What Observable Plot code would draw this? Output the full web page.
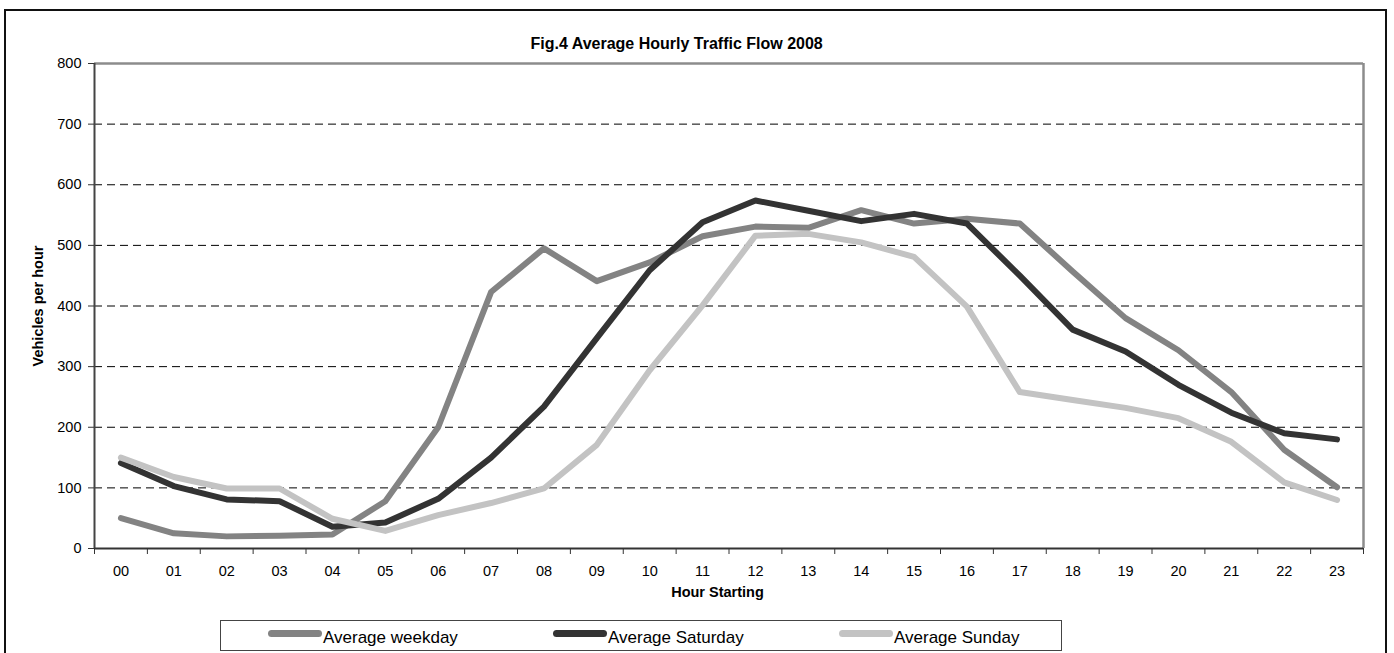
<!DOCTYPE html>
<html>
<head>
<meta charset="utf-8">
<script src="https://cdn.jsdelivr.net/npm/d3@7"></script>
<script src="https://cdn.jsdelivr.net/npm/@observablehq/plot@0.6"></script>
<style>
  html, body { margin: 0; padding: 0; background: #fff; }
  #wrap { position: relative; width: 1394px; height: 653px; overflow: hidden; font-family: "Liberation Sans", Arial, sans-serif; }
  #outer { position: absolute; left: 4px; top: 9px; width: 1383px; height: 700px; border: 2px solid #111; box-sizing: border-box; }
  #chart { position: absolute; left: 0; top: 0; }
  #legend { position: absolute; left: 220px; top: 620px; width: 842px; height: 31px; border: 1px solid #444; box-sizing: border-box; background: #fff; }
  .sw { position: absolute; height: 7px; width: 54px; border-radius: 3.5px; }
  .lt { position: absolute; font-size: 17px; line-height: 17px; color: #000; white-space: nowrap; }
</style>
</head>
<body>
<div id="wrap">
  <div id="outer"></div>
  <div id="chart"></div>
  <div id="legend"></div>
</div>
<script>
const titleText = "Fig.4 Average Hourly Traffic Flow 2008";
const yLabel = "Vehicles per hour";
const xLabel = "Hour Starting";
const hours = ["00","01","02","03","04","05","06","07","08","09","10","11","12","13","14","15","16","17","18","19","20","21","22","23"];
const weekday  = [50, 25, 20, 21, 23, 78, 200, 423, 495, 441, 472, 515, 531, 529, 558, 536, 544, 536, 457, 380, 327, 258, 163, 101];
const saturday = [141, 103, 81, 78, 36, 43, 82, 150, 234, 347, 459, 538, 574, 557, 540, 552, 536, 450, 361, 325, 270, 224, 190, 180];
const sunday   = [150, 118, 99, 99, 49, 29, 55, 75, 99, 171, 294, 401, 516, 519, 505, 481, 399, 258, 245, 232, 215, 176, 109, 80];
const seriesNames = ["Average weekday", "Average Saturday", "Average Sunday"];
const yTicks = [0, 100, 200, 300, 400, 500, 600, 700, 800];

const seriesColors = ["#838383", "#333333", "#c3c3c3"];
const seriesValues = [weekday, saturday, sunday];
const font = "'Liberation Sans', Arial, sans-serif";

const idx = hours.map((h, i) => i);
const boundaries = d3.range(hours.length + 1).map(i => i - 0.5);
const lineData = seriesValues.map((vals, s) => hours.map((h, i) => ({i, h, v: vals[i], s: seriesNames[s]})));

const chart = Plot.plot({
  width: 1394,
  height: 610,
  marginLeft: 94,
  marginRight: 31,
  marginTop: 63,
  marginBottom: 62,
  style: {fontFamily: font, fontSize: "14.5px", background: "transparent", color: "#000", overflow: "visible"},
  x: {type: "linear", domain: [-0.5, hours.length - 0.5]},
  y: {domain: [0, 800]},
  marks: [
    Plot.gridY(yTicks.filter(t => t > 0 && t < 800), {stroke: "#000", strokeOpacity: 1, strokeWidth: 1, strokeDasharray: "8,5"}),
    Plot.ruleY([800], {stroke: "#8c8c8c", strokeWidth: 2.5}),
    Plot.ruleX([hours.length - 0.5], {stroke: "#8c8c8c", strokeWidth: 2.5}),
    Plot.ruleX([-0.5], {stroke: "#444", strokeWidth: 2}),
    Plot.ruleY([0], {stroke: "#333", strokeWidth: 2}),
    Plot.axisY(yTicks, {tickSize: 6, tickPadding: 7, label: null, color: "#000", stroke: "#333", fontSize: 14.5}),
    Plot.axisX(boundaries, {tickSize: 6, tickFormat: () => "", label: null, stroke: "#333"}),
    Plot.axisX(idx, {tickSize: 0, tickPadding: 17, tickFormat: i => hours[i], label: null, color: "#000", fontSize: 14.5}),
    ...lineData.map((d, s) => Plot.line(d, {x: "i", y: "v", stroke: seriesColors[s], strokeWidth: 6, strokeLinejoin: "round", strokeLinecap: "round"})),
    Plot.text([yLabel], {frameAnchor: "left", dx: -56.5, rotate: -90, fontWeight: "bold", fontSize: 14.5, textAnchor: "middle", fill: "#000"}),
    Plot.text([xLabel], {frameAnchor: "bottom", dx: -11.5, dy: 48, fontWeight: "bold", fontSize: 14.5, textAnchor: "middle", fill: "#000"}),
    Plot.text([titleText], {frameAnchor: "top-left", dx: 436, dy: -26, fontWeight: "bold", fontSize: 16, textAnchor: "start", fill: "#000"})
  ]
});
document.getElementById("chart").appendChild(chart);

// legend
const legend = document.getElementById("legend");
const swX = [47, 332, 618];
const txX = [102, 387, 673];
seriesNames.forEach((name, s) => {
  const sw = document.createElement("div");
  sw.className = "sw";
  sw.style.left = swX[s] + "px";
  sw.style.top = "9px";
  sw.style.background = seriesColors[s];
  legend.appendChild(sw);
  const t = document.createElement("div");
  t.className = "lt";
  t.style.left = txX[s] + "px";
  t.style.top = "8px";
  t.textContent = name;
  legend.appendChild(t);
});
</script>
</body>
</html>
